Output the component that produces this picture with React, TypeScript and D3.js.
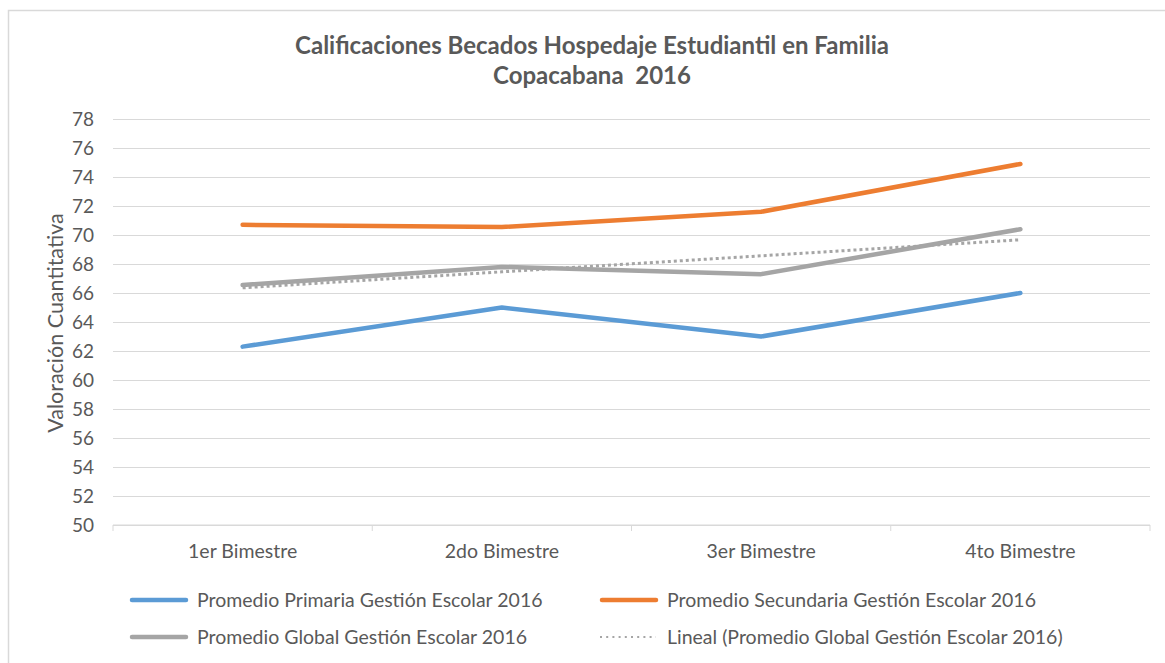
import React, { useEffect, useRef } from 'react';
import * as d3 from 'd3';

const categories = ['1er Bimestre', '2do Bimestre', '3er Bimestre', '4to Bimestre'];
const primaria = [62.3, 65.0, 63.0, 66.0];
const secundaria = [70.7, 70.55, 71.6, 74.9];
const global = [66.55, 67.8, 67.3, 70.4];
const yTicks = [50, 52, 54, 56, 58, 60, 62, 64, 66, 68, 70, 72, 74, 76, 78];

const titleLines = ['Calificaciones Becados Hospedaje Estudiantil en Familia', 'Copacabana  2016'];
const yLabel = 'Valoración Cuantitativa';

const seriesList = [
  { name: 'Promedio Primaria Gestión Escolar 2016', values: primaria, color: '#5b9bd5' },
  { name: 'Promedio Secundaria Gestión Escolar 2016', values: secundaria, color: '#ed7d31' },
  { name: 'Promedio Global Gestión Escolar 2016', values: global, color: '#a5a5a5' },
];
const trendName = 'Lineal (Promedio Global Gestión Escolar 2016)';

const W = 1165;
const H = 663;
const FONT = 'Lato, sans-serif';

// least squares fit, as the spreadsheet's linear trendline does
function linearTrend(vals: number[]) {
  const xs = vals.map((_, i) => i + 1);
  const mx = d3.mean(xs) as number;
  const my = d3.mean(vals) as number;
  let num = 0, den = 0;
  xs.forEach((x, i) => { num += (x - mx) * (vals[i] - my); den += (x - mx) * (x - mx); });
  const slope = num / den;
  return xs.map((x) => my + slope * (x - mx));
}

export default function App() {
  const ref = useRef<SVGSVGElement>(null);

  useEffect(() => {
    const svg = d3.select(ref.current);
    svg.selectAll('*').remove();

    const margin = { left: 113, right: 15, top: 119, bottom: 138 };
    const plotW = W - margin.left - margin.right;
    const plotH = H - margin.top - margin.bottom;

    // chart frame (only top and left are inside the shot)
    svg.append('rect')
      .attr('x', 8.5).attr('y', 10.5)
      .attr('width', W + 20).attr('height', H + 20)
      .attr('fill', '#fff')
      .attr('stroke', '#d9d9d9')
      .attr('stroke-width', 1.5);

    // title
    svg.append('g').selectAll('text')
      .data(titleLines)
      .join('text')
      .attr('x', 592)
      .attr('y', (d, i) => 54 + i * 30)
      .attr('text-anchor', 'middle')
      .attr('font-family', FONT)
      .attr('font-weight', 'bold')
      .attr('font-size', 24)
      .attr('fill', '#595959')
      .style('white-space', 'pre')
      .text((d) => d);

    const g = svg.append('g').attr('transform', `translate(${margin.left},${margin.top})`);

    const x = d3.scaleBand().domain(categories).range([0, plotW]);
    const y = d3.scaleLinear().domain([50, 78]).range([plotH, 0]);
    const cx = (i: number) => (x(categories[i]) as number) + x.bandwidth() / 2;

    // gridlines
    g.append('g')
      .call(d3.axisLeft(y).tickValues(yTicks).tickSize(-plotW).tickFormat(() => ''))
      .call((s) => s.select('.domain').remove())
      .call((s) => s.selectAll('line').attr('stroke', '#d9d9d9').attr('stroke-width', 1));

    // y tick labels
    g.append('g').selectAll('text')
      .data(yTicks)
      .join('text')
      .attr('x', -19)
      .attr('y', (d) => y(d))
      .attr('dy', '0.36em')
      .attr('text-anchor', 'end')
      .attr('font-family', FONT)
      .attr('font-size', 19)
      .attr('fill', '#595959')
      .text((d) => d);

    // x axis
    g.append('line')
      .attr('x1', 0).attr('x2', plotW)
      .attr('y1', plotH).attr('y2', plotH)
      .attr('stroke', '#d9d9d9');
    g.append('g').selectAll('line')
      .data(d3.range(categories.length + 1))
      .join('line')
      .attr('x1', (i) => i * x.bandwidth()).attr('x2', (i) => i * x.bandwidth())
      .attr('y1', plotH).attr('y2', plotH + 6)
      .attr('stroke', '#d9d9d9');
    g.append('g').selectAll('text')
      .data(categories)
      .join('text')
      .attr('x', (d, i) => cx(i))
      .attr('y', plotH + 33)
      .attr('text-anchor', 'middle')
      .attr('font-family', FONT)
      .attr('font-size', 19.5)
      .attr('fill', '#595959')
      .text((d) => d);

    // y axis title
    svg.append('text')
      .attr('transform', `translate(63,${margin.top + plotH / 2 + 1}) rotate(-90)`)
      .attr('text-anchor', 'middle')
      .attr('font-family', FONT)
      .attr('font-size', 21.5)
      .attr('fill', '#595959')
      .text(yLabel);

    const line = d3.line<number>().x((d, i) => cx(i)).y((d) => y(d));

    // trendline under the series
    g.append('path')
      .attr('d', line(linearTrend(global)))
      .attr('fill', 'none')
      .attr('stroke', '#a5a5a5')
      .attr('stroke-width', 3)
      .attr('stroke-dasharray', '3 3');

    seriesList.forEach((s) => {
      g.append('path')
        .attr('d', line(s.values))
        .attr('fill', 'none')
        .attr('stroke', s.color)
        .attr('stroke-width', 4.5)
        .attr('stroke-linecap', 'round')
        .attr('stroke-linejoin', 'round');
    });

    // legend
    const legendItems = [
      { name: seriesList[0].name, color: seriesList[0].color, dash: false, x: 130, y: 600 },
      { name: seriesList[1].name, color: seriesList[1].color, dash: false, x: 600, y: 600 },
      { name: seriesList[2].name, color: seriesList[2].color, dash: false, x: 130, y: 637 },
      { name: trendName, color: '#a5a5a5', dash: true, x: 600, y: 637 },
    ];
    const lg = svg.append('g').selectAll('g')
      .data(legendItems)
      .join('g')
      .attr('transform', (d) => `translate(${d.x},${d.y})`);
    lg.append('line')
      .attr('x1', (d) => (d.dash ? 0 : 2)).attr('x2', 56)
      .attr('stroke', (d) => d.color)
      .attr('stroke-width', (d) => (d.dash ? 2 : 4.5))
      .attr('stroke-dasharray', (d) => (d.dash ? '2 4.2' : null))
      .attr('stroke-linecap', (d) => (d.dash ? 'butt' : 'round'));
    lg.append('text')
      .attr('x', 67)
      .attr('dy', '0.36em')
      .attr('font-family', FONT)
      .attr('font-size', 19.5)
      .attr('fill', '#595959')
      .text((d) => d.name);
  }, []);

  return (
    <svg ref={ref} width={W} height={H}
      style={{ position: 'absolute', left: 0, top: 0, background: '#fff' }} />
  );
}
